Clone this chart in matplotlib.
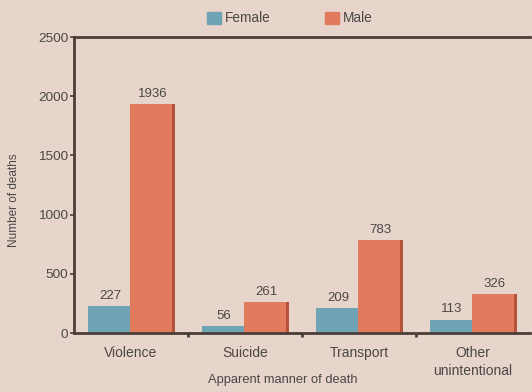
import matplotlib
matplotlib.use("Agg")
import matplotlib.pyplot as plt
import numpy as np
from matplotlib.patches import Patch

categories = ["Violence", "Suicide", "Transport", "Other\nunintentional"]
female = [227, 56, 209, 113]
male = [1936, 261, 783, 326]

bg = "#e7d5cc"
female_color = "#6fa4b4"
male_color = "#e27b5e"
male_side = "#b4523b"
axis_color = "#4a3e39"
text_color = "#4a4745"

plt.rcParams["font.family"] = ["Liberation Sans", "DejaVu Sans"]

fig = plt.figure(figsize=(5.32, 3.92), dpi=100, facecolor=bg)
ax = fig.add_axes([0.139, 0.1505, 0.857, 0.755], facecolor=bg)

x = np.arange(len(categories))
w = 0.37
fx = x - 0.38 + w / 2
mx = x - 0.01 + w / 2
ax.bar(fx, female, width=w, color=female_color, linewidth=0, zorder=2)
ax.bar(mx, male, width=w, color=male_color, linewidth=0, zorder=2)
# darker side face on the male bars
ax.bar(mx + w / 2 + 0.015, male, width=0.03, color=male_side, linewidth=0,
       zorder=2)

for xs, vals in ((fx, female), (mx, male)):
    for xi, v in zip(xs, vals):
        ax.annotate(str(v), (xi, v), xytext=(1, 3), textcoords="offset points",
                    ha="center", va="bottom", fontsize=9.5, color=text_color)

ax.set_xlim(-0.5, 3.5)
ax.set_ylim(0, 2500)
ax.set_yticks([0, 500, 1000, 1500, 2000, 2500])
ax.set_xticks(x)
ax.set_xticklabels(categories, linespacing=1.45)
ax.set_xticks([0.5, 1.5, 2.5], minor=True)

ax.tick_params(axis="x", which="major", length=0, pad=9, labelsize=10,
               labelcolor=text_color)
ax.tick_params(axis="x", which="minor", length=3, width=2, color=axis_color,
               direction="out")
ax.tick_params(axis="y", length=3, width=1.2, color=axis_color, pad=1,
               labelsize=9.7, labelcolor=text_color)

for side in ["left", "bottom", "top"]:
    ax.spines[side].set_color(axis_color)
    ax.spines[side].set_linewidth(2)
ax.spines["right"].set_visible(False)

ax.set_ylabel("Number of deaths", fontsize=8.5, color=text_color)
ax.yaxis.set_label_coords(-0.118, 0.45)
ax.set_xlabel("Apparent manner of death", fontsize=9.3, color=text_color)
ax.xaxis.set_label_coords(0.457, -0.138)

handles = [Patch(color=female_color, label="Female"),
           Patch(color=male_color, label="Male")]
fig.legend(handles=handles, loc="center", bbox_to_anchor=(0.545, 0.953),
           ncol=2, frameon=False, fontsize=9.8, handlelength=1.0,
           handleheight=1.0, handletextpad=0.3, columnspacing=4.0,
           labelcolor=text_color)

fig.savefig("out.png", dpi=100, facecolor=bg)
